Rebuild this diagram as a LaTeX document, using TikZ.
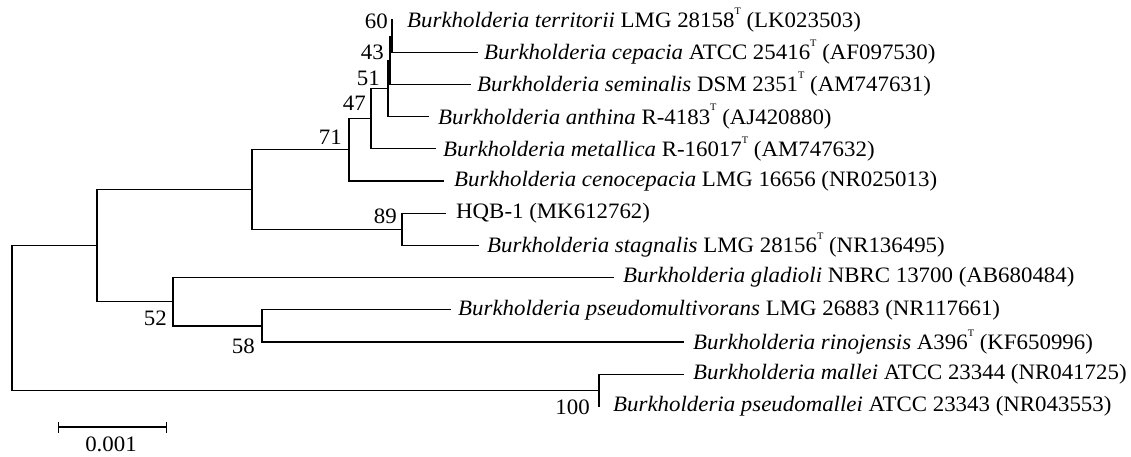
\documentclass[tikz,border=0pt]{standalone}
\usepackage{fontspec}
\setmainfont[FakeStretch=1.04]{Liberation Serif}
\usetikzlibrary{arrows.meta}
\newcommand\typeT{\raisebox{0.6em}{\fontsize{10}{10}\selectfont T}}
\begin{document}
\begin{tikzpicture}[x=1pt,y=-1pt,
  branch/.style={line width=1.2pt,line cap=rect},
  leaflabel/.style={anchor=west,inner sep=0pt,font=\fontsize{22}{24}\selectfont},
  boot/.style={anchor=east,inner sep=0pt,font=\fontsize{22}{24}\selectfont}]
\useasboundingbox (0,0) rectangle (1131,456);
% internal nodes
\coordinate (n60) at (392,36.1);
\coordinate (n43) at (390,60.25);
\coordinate (n51) at (388,88.4);
\coordinate (n47) at (371,118.6);
\coordinate (n71) at (349,149.8);
\coordinate (n89) at (402,229.3);
\coordinate (nA) at (252,189.6);
\coordinate (n58) at (262,325.9);
\coordinate (n52) at (173,301.75);
\coordinate (nB) at (97,245.7);
\coordinate (n100) at (599,390.3);
\coordinate (root) at (12,318);
% leaf ends
\coordinate (e1) at (392,20);
\coordinate (e2) at (477,52.2);
\coordinate (e3) at (470,84.4);
\coordinate (e4) at (428,116.6);
\coordinate (e5) at (435,148.8);
\coordinate (e6) at (443,181);
\coordinate (e7) at (445,213.2);
\coordinate (e8) at (478,245.4);
\coordinate (e9) at (613,277.6);
\coordinate (e10) at (450,309.8);
\coordinate (e11) at (683,342);
\coordinate (e12) at (683,374.2);
\coordinate (e13) at (599,406.4);
% leaf labels
\node[leaflabel] (t1) at (407,20) {\textit{Burkholderia territorii} LMG 28158\typeT{} (LK023503)};
\node[leaflabel] (t2) at (484,52.2) {\textit{Burkholderia cepacia} ATCC 25416\typeT{} (AF097530)};
\node[leaflabel] (t3) at (477,84.4) {\textit{Burkholderia seminalis} DSM 2351\typeT{} (AM747631)};
\node[leaflabel] (t4) at (438,116.6) {\textit{Burkholderia anthina} R-4183\typeT{} (AJ420880)};
\node[leaflabel] (t5) at (443,148.8) {\textit{Burkholderia metallica} R-16017\typeT{} (AM747632)};
\node[leaflabel] (t6) at (454,181) {\textit{Burkholderia cenocepacia} LMG 16656 (NR025013)};
\node[leaflabel] (t7) at (456,213.2) {HQB-1 (MK612762)};
\node[leaflabel] (t8) at (487,245.4) {\textit{Burkholderia stagnalis} LMG 28156\typeT{} (NR136495)};
\node[leaflabel] (t9) at (623,277.6) {\textit{Burkholderia gladioli} NBRC 13700 (AB680484)};
\node[leaflabel] (t10) at (458,309.8) {\textit{Burkholderia pseudomultivorans} LMG 26883 (NR117661)};
\node[leaflabel] (t11) at (693,342) {\textit{Burkholderia rinojensis} A396\typeT{} (KF650996)};
\node[leaflabel] (t12) at (693,374.2) {\textit{Burkholderia mallei} ATCC 23344 (NR041725)};
\node[leaflabel] (t13) at (613,406.4) {\textit{Burkholderia pseudomallei} ATCC 23343 (NR043553)};
% branches
\draw[branch] (n60) |- (e1);
\draw[branch] (n60) |- (e2);
\draw[branch] (n43) |- (n60);
\draw[branch] (n43) |- (e3);
\draw[branch] (n51) |- (n43);
\draw[branch] (n51) |- (e4);
\draw[branch] (n47) |- (n51);
\draw[branch] (n47) |- (e5);
\draw[branch] (n71) |- (n47);
\draw[branch] (n71) |- (e6);
\draw[branch] (n89) |- (e7);
\draw[branch] (n89) |- (e8);
\draw[branch] (nA) |- (n71);
\draw[branch] (nA) |- (n89);
\draw[branch] (n58) |- (e10);
\draw[branch] (n58) |- (e11);
\draw[branch] (n52) |- (e9);
\draw[branch] (n52) |- (n58);
\draw[branch] (nB) |- (nA);
\draw[branch] (nB) |- (n52);
\draw[branch] (n100) |- (e12);
\draw[branch] (n100) |- (e13);
\draw[branch] (root) |- (nB);
\draw[branch] (root) |- (n100);
% bootstrap values
\node[boot] (b60) at (388,21) {60};
\node[boot] (b43) at (384,52) {43};
\node[boot] (b51) at (380,78) {51};
\node[boot] (b47) at (366,103) {47};
\node[boot] (b71) at (342,137) {71};
\node[boot] (b89) at (397,216) {89};
\node[boot] (b52) at (167,318) {52};
\node[boot] (b58) at (255,346) {58};
\node[boot] (b100) at (590,407) {100};
% scale bar
\coordinate (s1) at (58,427);
\coordinate (s2) at (167,427);
\draw[line width=1.1pt,{Bar[width=11pt]}-{Bar[width=11pt]}] (s1) -- (s2);
\node[font=\fontsize{22}{24}\selectfont,inner sep=0pt] (sl) at (111,444) {0.001};
\end{tikzpicture}
\end{document}
